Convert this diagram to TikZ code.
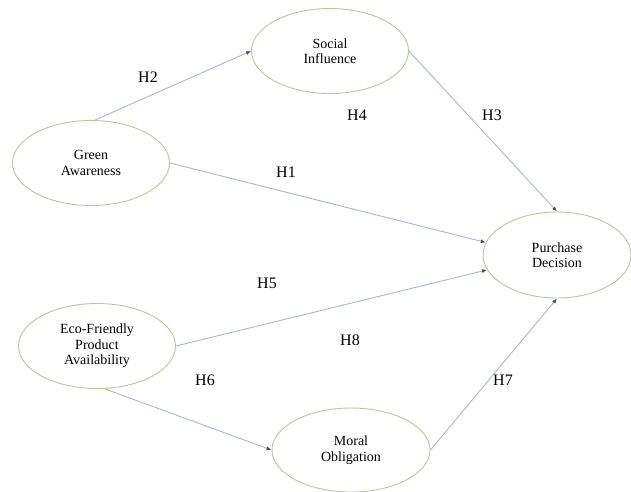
\documentclass[tikz,border=0pt]{standalone}
\usepackage{fontspec}
\setmainfont{Liberation Serif}
\usetikzlibrary{shapes.geometric,arrows.meta}
\definecolor{ellcol}{HTML}{B9C894}
\definecolor{linecol}{HTML}{AAB2E6}
\definecolor{tipcol}{HTML}{3A4A7A}
\tikzset{
  construct/.style={ellipse, draw=ellcol, line width=0.9pt, fill=white, inner sep=0pt,
    align=center, font=\fontsize{14}{15.5}\selectfont},
  hyp/.style={-{Latex[length=5pt,width=4pt,color=tipcol]}, draw=linecol, line width=0.9pt, shorten >=0pt},
  hlabel/.style={font=\fontsize{16}{18}\selectfont, inner sep=0pt}
}
\begin{document}
\begin{tikzpicture}[x=1pt,y=-1pt]
\useasboundingbox[fill=white] (0,0) rectangle (631,491);
\node[construct, minimum width=157pt, minimum height=85pt] (si) at (330,51) {Social\\Influence};
\node[construct, minimum width=157pt, minimum height=85pt] (ga) at (91,163) {Green\\Awareness};
\node[construct, minimum width=148pt, minimum height=86pt] (pd) at (557,255) {Purchase\\Decision};
\node[construct, minimum width=157pt, minimum height=85pt] (ef) at (97,346) {Eco-Friendly\\Product\\Availability};
\node[construct, minimum width=158pt, minimum height=84pt] (mo) at (351,450) {Moral\\Obligation};

\draw[hyp] (ga.85) -- (si.west);
\draw[hyp] (si.east) -- (pd.north);
\draw[hyp] (ga.east) -- (pd.170);
\draw[hyp] (ef.east) -- (pd.192);
\draw[hyp] (ef.-80) -- (mo.west);
\draw[hyp] (mo.east) -- (pd.south);

\node[hlabel] (h2) at (148,77) {H2};
\node[hlabel] (h1) at (286,172) {H1};
\node[hlabel] (h4) at (357,115) {H4};
\node[hlabel] (h3) at (492,115) {H3};
\node[hlabel] (h5) at (267,283) {H5};
\node[hlabel] (h6) at (205,380) {H6};
\node[hlabel] (h8) at (350,340) {H8};
\node[hlabel] (h7) at (503,380) {H7};
\end{tikzpicture}
\end{document}
